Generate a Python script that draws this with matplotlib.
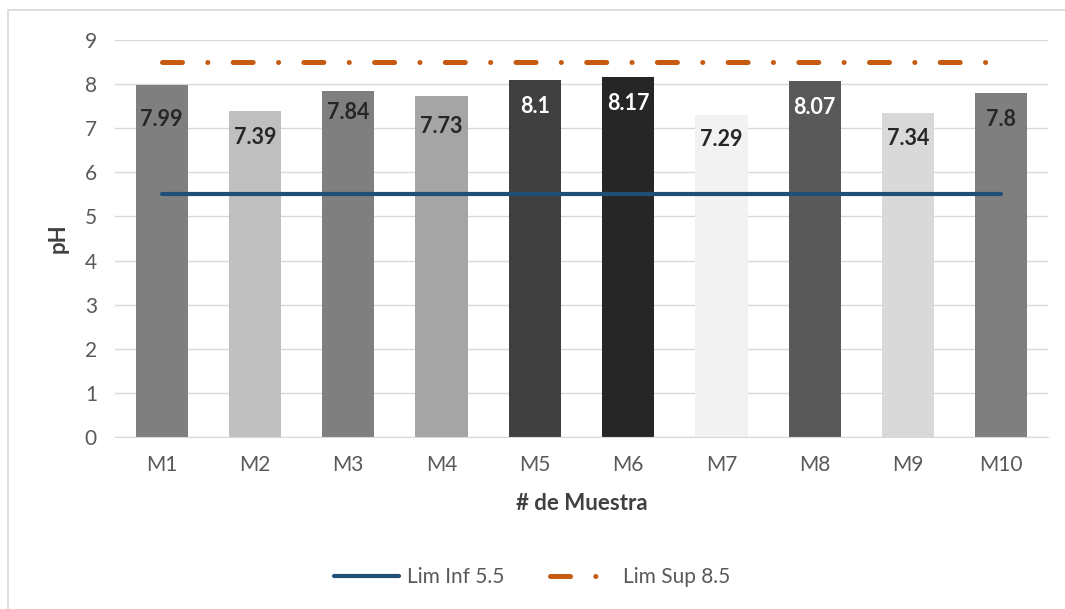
import matplotlib.pyplot as plt
from matplotlib.patches import Rectangle

muestras = ["M1", "M2", "M3", "M4", "M5", "M6", "M7", "M8", "M9", "M10"]
ph = [7.99, 7.39, 7.84, 7.73, 8.1, 8.17, 7.29, 8.07, 7.34, 7.8]
lim_inf = 5.5
lim_sup = 8.5

bar_colors = ["#7f7f7f", "#bfbfbf", "#7f7f7f", "#a5a5a5", "#404040",
              "#262626", "#f2f2f2", "#595959", "#d9d9d9", "#7f7f7f"]
label_colors = ["#262626", "#262626", "#262626", "#262626", "white",
                "white", "#262626", "white", "#262626", "#262626"]
# distance of each value label below its bar top, in points
label_drop = [25, 19, 15, 22, 19, 19, 17, 19, 18, 19]

plt.rcParams["font.family"] = ["Lato", "DejaVu Sans"]

fig = plt.figure(figsize=(10.65, 6.09), dpi=100)
fig.patches.append(Rectangle((8 / 1065, -0.1), 1.2, 1.1 - 10 / 609,
                             transform=fig.transFigure, fill=False,
                             edgecolor="#d9d9d9", linewidth=1.2))
ax = fig.add_axes([0.108, 0.2824, 0.876, 0.6519])

x = list(range(len(muestras)))
ax.bar(x, ph, width=0.56, color=bar_colors, zorder=2)

for xi, v, c, d in zip(x, ph, label_colors, label_drop):
    ax.annotate(f"{v:g}", (xi, v), xytext=(0, -d), textcoords="offset points",
                ha="center", va="center", fontsize=15.5, fontweight="bold",
                color=c, zorder=4)

ax.plot([x[0], x[-1]], [lim_inf, lim_inf], color="#1f4e79", linewidth=3,
        solid_capstyle="round", zorder=3, label="Lim Inf 5.5")
ax.plot([x[0], x[-1]], [lim_sup, lim_sup], color="#c55a11", linewidth=3.6,
        dashes=(4.0, 5.06, 0.02, 5.06), dash_capstyle="round", zorder=3,
        label="Lim Sup 8.5")

ax.set_xlim(-0.5, 9.5)
ax.set_ylim(0, 9)
ax.set_yticks(range(0, 10))
ax.set_xticks(x)
ax.set_xticklabels(muestras)
ax.grid(axis="y", color="#d9d9d9", linewidth=1)
ax.set_axisbelow(True)
for s in ["top", "right", "left"]:
    ax.spines[s].set_visible(False)
ax.spines["bottom"].set_color("#d9d9d9")
ax.tick_params(length=0, labelsize=15, labelcolor="#595959")
ax.tick_params(axis="y", pad=13)
ax.tick_params(axis="x", pad=13)

ax.set_ylabel("pH", fontsize=16, fontweight="bold", color="#404040", labelpad=12)
ax.set_xlabel("# de Muestra", fontsize=16, fontweight="bold", color="#404040",
              labelpad=13)

fig.legend(loc="center", bbox_to_anchor=(0.5, 1 - 577 / 609), ncol=2,
           frameon=False, fontsize=15, labelcolor="#595959", handlelength=3.1,
           handletextpad=0.4, columnspacing=2.2)

fig.savefig("out.png", dpi=100)
